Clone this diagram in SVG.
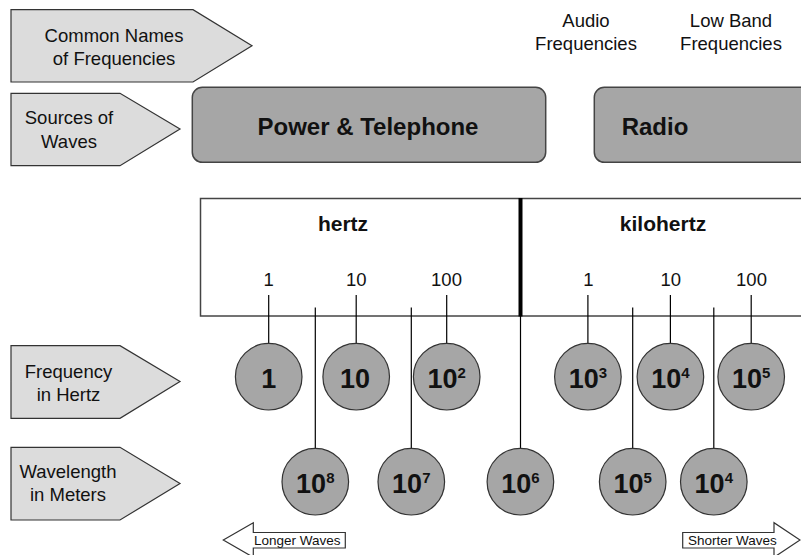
<svg xmlns="http://www.w3.org/2000/svg" width="801" height="555" viewBox="0 0 801 555">
<style>
.lbl{fill:#dcdcdc;stroke:#333;stroke-width:1.2}
.t{font-family:"Liberation Sans",Arial,sans-serif;font-size:18.5px;fill:#111;text-anchor:middle}
.src{fill:#a6a6a6;stroke:#444;stroke-width:1.5}
.big{font-family:"Liberation Sans",Arial,sans-serif;font-size:24px;font-weight:bold;fill:#111;text-anchor:middle}
.unit{font-family:"Liberation Sans",Arial,sans-serif;font-size:21px;font-weight:bold;fill:#111;text-anchor:middle}
.c{fill:#a6a6a6;stroke:#333;stroke-width:1.2}
.ct{font-family:"Liberation Sans",Arial,sans-serif;font-size:27px;font-weight:bold;fill:#111;text-anchor:middle}
.sup{font-size:15px}
.ln{stroke:#000;stroke-width:1.2;fill:none}
.arr{fill:#fff;stroke:#333;stroke-width:1.2}
.at{font-family:"Liberation Sans",Arial,sans-serif;font-size:13.5px;fill:#111}
</style>
<rect width="801" height="555" fill="#fff"/>

<g id="label-common-names">
<polygon class="lbl" points="11,9.7 193,9.7 252,45.8 193,82 11,82"/>
<text class="t" x="114" y="41.7">Common Names</text>
<text class="t" x="114" y="65">of Frequencies</text>
</g>
<g id="label-sources">
<polygon class="lbl" points="11,93.3 120,93.3 180,129 120,165.7 11,165.7"/>
<text class="t" x="69" y="124.3">Sources of</text>
<text class="t" x="69" y="147.7">Waves</text>
</g>
<g id="label-frequency">
<polygon class="lbl" points="11,345.7 120,345.7 180,381.5 120,418.3 11,418.3"/>
<text class="t" x="68.5" y="378">Frequency</text>
<text class="t" x="68.5" y="400.7">in Hertz</text>
</g>
<g id="label-wavelength">
<polygon class="lbl" points="11,447.3 120,447.3 180,483.5 120,520 11,520"/>
<text class="t" x="68" y="478">Wavelength</text>
<text class="t" x="68" y="500.7">in Meters</text>
</g>

<g id="name-audio">
<text class="t" x="586" y="26.7">Audio</text>
<text class="t" x="586" y="50">Frequencies</text>
</g>
<g id="name-lowband">
<text class="t" x="731" y="26.7">Low Band</text>
<text class="t" x="731" y="50">Frequencies</text>
</g>

<g id="source-power">
<rect class="src" x="192.3" y="87.3" width="353.4" height="75" rx="10"/>
<text class="big" x="368" y="135">Power &amp; Telephone</text>
</g>
<g id="source-radio">
<rect class="src" x="594.3" y="87.3" width="230" height="75" rx="10"/>
<text class="big" x="655" y="135">Radio</text>
</g>

<g id="scale">
<rect x="200.5" y="198.5" width="620" height="117.5" fill="#fff" stroke="#444" stroke-width="1.5"/>
<line x1="520.5" y1="198" x2="520.5" y2="316.5" stroke="#000" stroke-width="4"/>
<text class="unit" x="343" y="230.7">hertz</text>
<text class="unit" x="663" y="230.7">kilohertz</text>
<text class="t" x="268.7" y="286">1</text>
<text class="t" x="356.2" y="286">10</text>
<text class="t" x="446.5" y="286">100</text>
<text class="t" x="588.5" y="286">1</text>
<text class="t" x="670.8" y="286">10</text>
<text class="t" x="751.5" y="286">100</text>
</g>

<g id="connectors">
<line class="ln" x1="268.7" y1="295" x2="268.7" y2="343.4"/>
<line class="ln" x1="356.2" y1="295" x2="356.2" y2="343.4"/>
<line class="ln" x1="446.7" y1="295" x2="446.7" y2="343.4"/>
<line class="ln" x1="587.9" y1="295" x2="587.9" y2="343.4"/>
<line class="ln" x1="670.4" y1="295" x2="670.4" y2="343.4"/>
<line class="ln" x1="751.2" y1="295" x2="751.2" y2="343.4"/>
<line class="ln" x1="315.3" y1="307.5" x2="315.3" y2="448.4"/>
<line class="ln" x1="411.3" y1="307.5" x2="411.3" y2="448.4"/>
<line class="ln" x1="520.5" y1="316" x2="520.5" y2="448.4"/>
<line class="ln" x1="632.7" y1="307.5" x2="632.7" y2="448.4"/>
<line class="ln" x1="713.8" y1="307.5" x2="713.8" y2="448.4"/>
</g>

<g id="hz-1"><circle class="c" cx="268.7" cy="376.7" r="33.3"/><text class="ct" x="268.7" y="387.5">1</text></g>
<g id="hz-10"><circle class="c" cx="356.2" cy="376.7" r="33.3"/><text class="ct" x="355" y="387.5">10</text></g>
<g id="hz-1e2"><circle class="c" cx="446.7" cy="376.7" r="33.3"/><text class="ct" x="446.7" y="387.5">10<tspan class="sup" dy="-10">2</tspan></text></g>
<g id="hz-1e3"><circle class="c" cx="587.9" cy="376.7" r="33.3"/><text class="ct" x="587.9" y="387.5">10<tspan class="sup" dy="-10">3</tspan></text></g>
<g id="hz-1e4"><circle class="c" cx="670.4" cy="376.7" r="33.3"/><text class="ct" x="670.4" y="387.5">10<tspan class="sup" dy="-10">4</tspan></text></g>
<g id="hz-1e5"><circle class="c" cx="751.2" cy="376.7" r="33.3"/><text class="ct" x="751.2" y="387.5">10<tspan class="sup" dy="-10">5</tspan></text></g>

<g id="m-1e8"><circle class="c" cx="315.3" cy="481.7" r="33.3"/><text class="ct" x="315.3" y="492.8">10<tspan class="sup" dy="-10">8</tspan></text></g>
<g id="m-1e7"><circle class="c" cx="411.3" cy="481.7" r="33.3"/><text class="ct" x="411.3" y="492.8">10<tspan class="sup" dy="-10">7</tspan></text></g>
<g id="m-1e6"><circle class="c" cx="520.4" cy="481.7" r="33.3"/><text class="ct" x="520.4" y="492.8">10<tspan class="sup" dy="-10">6</tspan></text></g>
<g id="m-1e5"><circle class="c" cx="632.7" cy="481.7" r="33.3"/><text class="ct" x="632.7" y="492.8">10<tspan class="sup" dy="-10">5</tspan></text></g>
<g id="m-1e4"><circle class="c" cx="713.8" cy="481.7" r="33.3"/><text class="ct" x="713.8" y="492.8">10<tspan class="sup" dy="-10">4</tspan></text></g>

<g id="arrow-longer">
<polygon class="arr" points="223.3,540 253.3,522.7 253.3,532.5 345.3,532.5 345.3,548 253.3,548 253.3,557.3"/>
<text class="at" x="254" y="544.5">Longer Waves</text>
</g>
<g id="arrow-shorter">
<polygon class="arr" points="682.7,532.5 774,532.5 774,522.7 800,540 774,557.3 774,548 682.7,548"/>
<text class="at" x="688" y="544.5">Shorter Waves</text>
</g>
</svg>
